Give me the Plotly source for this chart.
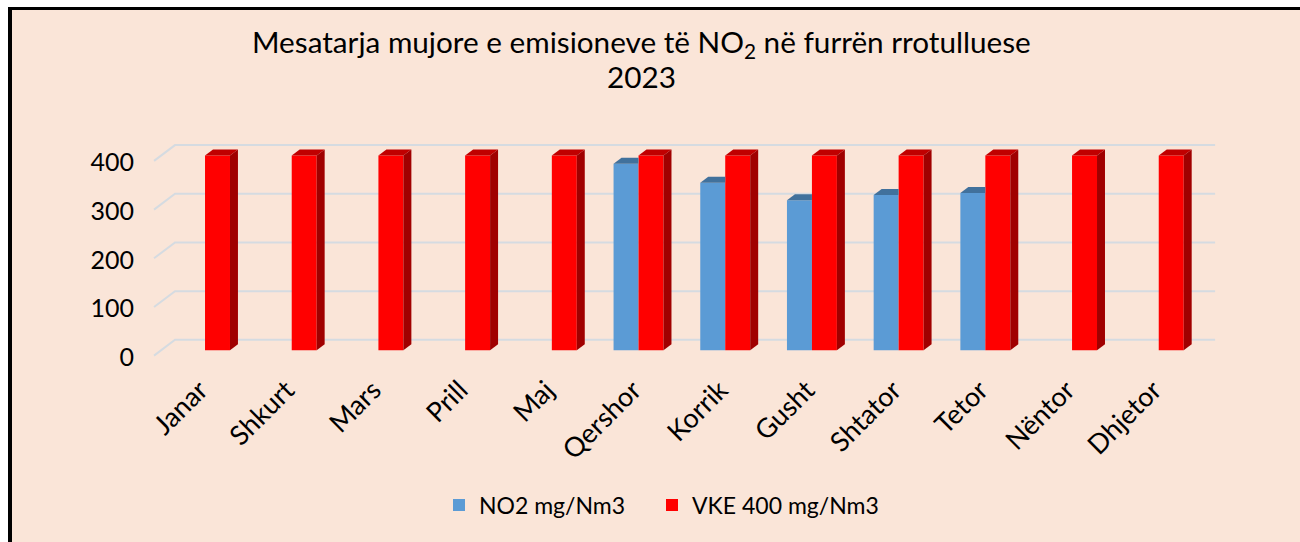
import plotly.graph_objects as go

months = ["Janar", "Shkurt", "Mars", "Prill", "Maj", "Qershor", "Korrik",
          "Gusht", "Shtator", "Tetor", "Nëntor", "Dhjetor"]
no2 = [None, None, None, None, None, 383, 344, 308, 319, 323, None, None]
vke = [400] * 12
y_ticks = [0, 100, 200, 300, 400]
title_lines = ["Mesatarja mujore e emisioneve të NO<sub>2</sub> në furrën rrotulluese", "2023"]

FONT = "Lato"
BG = "#FAE5D8"
BLUE, BLUE_TOP = "#5B9BD5", "#41719C"
RED, RED_TOP, RED_SIDE = "#FF0000", "#C00000", "#A00000"
GRID = "#D5DBE1"

W = 0.288           # bar width in category units
DX = 0.092          # 3D depth offset (x, category units)
DY = 12.3           # 3D depth offset (y, data units)
LABEL_SHIFT = 14.4  # y labels sit slightly below the front-face value
X_LABEL_SHIFT = -0.06

xs = list(range(len(months)))
fig = go.Figure()

fig.add_trace(go.Bar(x=[i - W / 2 for i in xs], y=no2, width=W, name="NO2 mg/Nm3",
                     marker=dict(color=BLUE, line=dict(width=0)), legend="legend"))
fig.add_trace(go.Bar(x=[i + W / 2 for i in xs], y=vke, width=W, name="VKE 400 mg/Nm3",
                     marker=dict(color=RED, line=dict(width=0)), legend="legend2"))

def poly(px, py, color):
    fig.add_trace(go.Scatter(x=px + [px[0]], y=py + [py[0]], mode="lines", fill="toself",
                             fillcolor=color, line=dict(width=0, color=color),
                             hoverinfo="skip", showlegend=False))

for i, v in zip(xs, no2):
    if v is None:
        continue
    xl, xr = i - W, i
    poly([xl, xl + DX, xr, xr], [v, v + DY, v + DY, v], BLUE_TOP)

for i, v in zip(xs, vke):
    xl, xr = i, i + W
    poly([xl, xl + DX, xr + DX, xr], [v, v + DY, v + DY, v], RED_TOP)
    poly([xr, xr + DX, xr + DX, xr], [0, DY, v + DY, v], RED_SIDE)

shapes = []
for t in y_ticks:
    shapes.append(dict(type="path", xref="x", yref="y", layer="below",
                       path=f"M -0.588,{t - 11} L -0.346,{t + 21.5} L 11.65,{t + 21.5}",
                       line=dict(color=GRID, width=2)))

L, T, PW, PH = 151, 136, 1068, 224
def px2paper_x(p):
    return (p - L) / PW
def py2paper_y(p):
    return (T + PH - p) / PH

shapes.append(dict(type="rect", xref="paper", yref="paper", layer="below",
                   x0=px2paper_x(-5), x1=px2paper_x(1305), y0=py2paper_y(-5), y1=py2paper_y(7),
                   fillcolor="white", line=dict(width=0)))
shapes.append(dict(type="rect", xref="paper", yref="paper", layer="below",
                   x0=px2paper_x(-5), x1=px2paper_x(8), y0=py2paper_y(-5), y1=py2paper_y(547),
                   fillcolor="white", line=dict(width=0)))
shapes.append(dict(type="line", xref="paper", yref="paper", layer="above",
                   x0=px2paper_x(8), x1=px2paper_x(1305), y0=py2paper_y(8.5), y1=py2paper_y(8.5),
                   line=dict(color="black", width=3)))
shapes.append(dict(type="line", xref="paper", yref="paper", layer="above",
                   x0=px2paper_x(10), x1=px2paper_x(10), y0=py2paper_y(7), y1=py2paper_y(547),
                   line=dict(color="black", width=4)))

annotations = [
    dict(text=title_lines[0], xref="paper", yref="paper", x=px2paper_x(641), y=py2paper_y(43),
         xanchor="center", yanchor="middle", showarrow=False,
         font=dict(family=FONT, size=29.7, color="black")),
    dict(text=title_lines[1], xref="paper", yref="paper", x=px2paper_x(641), y=py2paper_y(77),
         xanchor="center", yanchor="middle", showarrow=False,
         font=dict(family=FONT, size=29.7, color="black")),
]

legend_common = dict(orientation="h", xanchor="left", y=py2paper_y(505), yanchor="middle",
                     font=dict(size=23, family=FONT), bgcolor="rgba(0,0,0,0)")

fig.update_layout(
    width=1300, height=542,
    margin=dict(l=L, r=1300 - L - PW, t=T, b=542 - T - PH),
    paper_bgcolor=BG, plot_bgcolor="rgba(0,0,0,0)",
    barmode="overlay",
    font=dict(family=FONT, color="black"),
    xaxis=dict(range=[-0.623, 11.695], tickmode="array",
               tickvals=[i + X_LABEL_SHIFT for i in xs], ticktext=months,
               tickangle=-45, showgrid=False, zeroline=False, showline=False, ticks="",
               ticklabelstandoff=8,
               tickfont=dict(size=27, family=FONT), automargin=False),
    yaxis=dict(range=[-20, 440.2], tickmode="array",
               tickvals=[t - LABEL_SHIFT for t in y_ticks], ticktext=[str(t) for t in y_ticks],
               showgrid=False, zeroline=False, showline=False, ticks="", ticklabelstandoff=16,
               tickfont=dict(size=25, family=FONT), automargin=False),
    legend=dict(x=px2paper_x(439), **legend_common),
    legend2=dict(x=px2paper_x(652), **legend_common),
    shapes=shapes,
    annotations=annotations,
)

fig.write_html("out.html", config={"displayModeBar": False},
               post_script="document.body.style.margin='0';")
